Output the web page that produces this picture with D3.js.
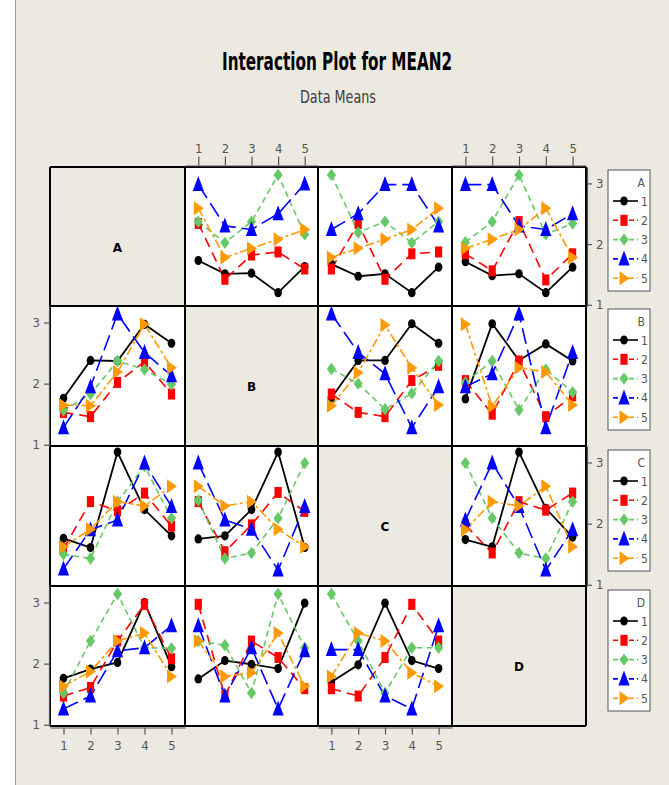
<!DOCTYPE html>
<html>
<head>
<meta charset="utf-8">
<script src="https://cdn.jsdelivr.net/npm/d3@7"></script>
<style>
  html, body { margin: 0; padding: 0; background: #ECE9E0; }
  svg { display: block; }
</style>
</head>
<body>
<svg id="chart" width="669" height="785"></svg>
<script>
// Factors and their levels
const factors = ["A", "B", "C", "D"];
const levels = [1, 2, 3, 4, 5];
const yTickValues = [1, 2, 3];

// Data means of MEAN2. Each array: one row per level of the row factor (the
// plotted series), one value per level of the column factor (the x axis).
const meansA_B = [
  [1.73, 1.51, 1.52, 1.20, 1.63],
  [2.34, 1.42, 1.82, 1.87, 1.59],
  [2.37, 2.02, 2.37, 3.14, 2.16],
  [2.98, 2.30, 2.24, 2.50, 2.99],
  [2.59, 1.78, 1.93, 2.08, 2.24]
];
const meansA_C = [
  [1.67, 1.47, 1.51, 1.20, 1.62],
  [1.59, 2.34, 1.42, 1.84, 1.87],
  [3.14, 2.19, 2.37, 2.02, 2.37],
  [2.24, 2.50, 2.98, 2.98, 2.30],
  [1.78, 1.93, 2.08, 2.24, 2.59]
];
const meansA_D = [
  [1.71, 1.48, 1.51, 1.20, 1.62],
  [1.84, 1.56, 2.37, 1.41, 1.84],
  [2.03, 2.37, 3.14, 2.16, 2.34],
  [2.98, 2.98, 2.30, 2.24, 2.50],
  [1.93, 2.08, 2.24, 2.59, 1.78]
];
const meansB_A = [
  [1.76, 2.38, 2.37, 2.97, 2.66],
  [1.53, 1.46, 2.02, 2.36, 1.83],
  [1.56, 1.83, 2.37, 2.23, 1.99],
  [1.28, 1.95, 3.14, 2.51, 2.13],
  [1.65, 1.64, 2.19, 2.97, 2.26]
];
const meansB_C = [
  [1.77, 2.38, 2.38, 2.98, 2.66],
  [1.83, 1.53, 1.46, 2.05, 2.30],
  [2.24, 2.00, 1.58, 1.84, 2.37],
  [3.14, 2.51, 2.16, 1.28, 1.95],
  [1.64, 2.18, 2.96, 2.26, 1.65]
];
const meansB_D = [
  [1.75, 2.98, 2.38, 2.65, 2.37],
  [2.05, 1.50, 2.37, 1.46, 1.80],
  [2.02, 2.37, 1.57, 2.23, 1.86],
  [1.95, 2.16, 3.14, 1.28, 2.51],
  [2.97, 1.63, 2.26, 2.19, 1.65]
];
const meansC_A = [
  [1.76, 1.61, 3.17, 2.23, 1.80],
  [1.59, 2.36, 2.21, 2.50, 1.96],
  [1.50, 1.43, 2.36, 2.94, 2.09],
  [1.26, 1.90, 2.06, 2.99, 2.28],
  [1.62, 1.91, 2.36, 2.29, 2.61]
];
const meansC_B = [
  [1.75, 1.80, 2.23, 3.17, 1.61],
  [2.36, 1.54, 1.98, 2.51, 2.20],
  [2.38, 1.43, 1.52, 2.09, 2.99],
  [2.99, 2.06, 1.91, 1.24, 2.28],
  [2.61, 2.29, 2.36, 1.91, 1.62]
];
const meansC_D = [
  [1.74, 1.62, 3.17, 2.25, 1.78],
  [1.98, 1.52, 2.36, 2.22, 2.50],
  [2.99, 2.09, 1.52, 1.43, 2.36],
  [2.06, 2.99, 2.28, 1.24, 1.90],
  [1.90, 2.36, 2.29, 2.61, 1.62]
];
const meansD_A = [
  [1.76, 1.91, 2.02, 3.00, 1.95],
  [1.47, 1.61, 2.37, 2.97, 2.08],
  [1.52, 2.37, 3.14, 2.26, 2.25],
  [1.26, 1.47, 2.21, 2.26, 2.62],
  [1.63, 1.87, 2.37, 2.50, 1.79]
];
const meansD_B = [
  [1.75, 2.05, 1.99, 1.92, 2.99],
  [2.97, 1.47, 2.37, 2.10, 1.59],
  [2.37, 2.30, 1.52, 3.14, 2.26],
  [2.62, 1.47, 2.26, 1.26, 2.21],
  [2.37, 1.79, 1.85, 2.50, 1.63]
];
const meansD_C = [
  [1.70, 1.98, 2.99, 2.05, 1.92],
  [1.59, 1.47, 2.10, 2.97, 2.37],
  [3.14, 2.37, 1.52, 2.26, 2.26],
  [2.23, 2.23, 1.47, 1.26, 2.62],
  [1.79, 2.50, 2.37, 1.85, 1.63]
];

const cellMeans = {
  "A|B": meansA_B, "A|C": meansA_C, "A|D": meansA_D,
  "B|A": meansB_A, "B|C": meansB_C, "B|D": meansB_D,
  "C|A": meansC_A, "C|B": meansC_B, "C|D": meansC_D,
  "D|A": meansD_A, "D|B": meansD_B, "D|C": meansD_C
};

// Series appearance, one entry per level
const seriesColors = ["#000000", "#FF0000", "#66C866", "#0000FF", "#FF9900"];
const seriesDash = [null, "10,6", "6,4", "16,6", "9,3,3,3"];
const seriesSymbol = ["circle", "square", "diamond", "triUp", "triRight"];

const BEIGE = "#ECE9E0";
const NARROW_FONT = "'Liberation Sans Narrow', 'DejaVu Sans Condensed', 'DejaVu Sans', sans-serif";

const svg = d3.select("#chart");

// Page background with the white margin strip on the left
svg.append("rect").attr("width", 669).attr("height", 785).attr("fill", BEIGE);
svg.append("rect").attr("width", 15).attr("height", 785).attr("fill", "#ffffff");
svg.append("line").attr("x1", 15.5).attr("x2", 15.5).attr("y1", 0).attr("y2", 785)
  .attr("stroke", "#9a9a9a").attr("stroke-width", 1);

// Titles
svg.append("text")
  .attr("x", 337).attr("y", 70)
  .attr("text-anchor", "middle")
  .attr("font-family", NARROW_FONT)
  .attr("font-stretch", "condensed")
  .attr("font-weight", "bold")
  .attr("font-size", 25)
  .attr("textLength", 230).attr("lengthAdjust", "spacingAndGlyphs")
  .attr("fill", "#000")
  .text("Interaction Plot for MEAN2");
svg.append("text")
  .attr("x", 338).attr("y", 103)
  .attr("text-anchor", "middle")
  .attr("font-family", NARROW_FONT)
  .attr("font-stretch", "condensed")
  .attr("font-size", 18)
  .attr("textLength", 76).attr("lengthAdjust", "spacingAndGlyphs")
  .attr("fill", "#404040")
  .text("Data Means");

// Panel grid geometry
const colEdges = [50, 185, 318, 452, 586];
const rowEdges = [167, 306, 446, 586, 726];

function xScaleFor(c) {
  return d3.scaleLinear().domain([0.5, 5.5]).range([colEdges[c], colEdges[c + 1]]);
}
function yScaleFor(r) {
  return d3.scaleLinear().domain([0.98, 3.27]).range([rowEdges[r + 1], rowEdges[r]]);
}

// Marker shape paths centred on (0,0)
function symbolPath(kind) {
  switch (kind) {
    case "circle":
      return "M-3.8,0 A3.8,4.6 0 1,0 3.8,0 A3.8,4.6 0 1,0 -3.8,0 Z";
    case "square":
      return "M-3.6,-5.5 L3.6,-5.5 L3.6,5.5 L-3.6,5.5 Z";
    case "diamond":
      return "M0,-6.2 L4.6,0 L0,6.2 L-4.6,0 Z";
    case "triUp":
      return "M0,-8.5 L5.6,6.5 L-5.6,6.5 Z";
    case "triRight":
      return "M5.5,0 L-4.5,-7 L-4.5,7 Z";
  }
}

const panels = svg.append("g");

factors.forEach((rowF, r) => {
  factors.forEach((colF, c) => {
    const x0 = colEdges[c], x1 = colEdges[c + 1];
    const y0 = rowEdges[r], y1 = rowEdges[r + 1];
    const g = panels.append("g");
    g.append("rect")
      .attr("x", x0).attr("y", y0)
      .attr("width", x1 - x0).attr("height", y1 - y0)
      .attr("fill", r === c ? BEIGE : "#ffffff");
    if (r === c) {
      g.append("text")
        .attr("x", (x0 + x1) / 2).attr("y", (y0 + y1) / 2 + 15)
        .attr("text-anchor", "middle")
        .attr("font-family", "'DejaVu Sans', sans-serif")
        .attr("font-weight", "bold")
        .attr("font-size", 12)
        .attr("fill", "#000")
        .text(rowF);
    }
  });
});

// Interaction lines and markers
factors.forEach((rowF, r) => {
  factors.forEach((colF, c) => {
    if (r === c) return;
    const data = cellMeans[rowF + "|" + colF];
    const xs = xScaleFor(c), ys = yScaleFor(r);
    const line = d3.line().x((d, i) => xs(levels[i])).y(d => ys(d));
    const g = svg.append("g");
    data.forEach((vals, s) => {
      g.append("path")
        .attr("d", line(vals))
        .attr("fill", "none")
        .attr("stroke", seriesColors[s])
        .attr("stroke-width", s === 0 ? 1.8 : 1.6)
        .attr("stroke-dasharray", seriesDash[s]);
    });
    data.forEach((vals, s) => {
      g.selectAll(null).data(vals).enter().append("path")
        .attr("d", symbolPath(seriesSymbol[s]))
        .attr("transform", (d, i) => `translate(${xs(levels[i])},${ys(d)})`)
        .attr("fill", seriesColors[s]);
    });
  });
});

// Panel borders
const borders = svg.append("g").attr("stroke", "#000").attr("stroke-width", 2).attr("fill", "none");
colEdges.forEach(x => borders.append("line").attr("x1", x).attr("x2", x).attr("y1", rowEdges[0]).attr("y2", rowEdges[4]));
rowEdges.forEach(y => borders.append("line").attr("x1", colEdges[0]).attr("x2", colEdges[4]).attr("y1", y).attr("y2", y));

// Axes: alternate sides like a scatterplot matrix
const intFormat = d3.format("d");
function styleAxis(sel) {
  sel.selectAll("path.domain").attr("stroke", "#555").attr("stroke-width", 1.2);
  sel.selectAll(".tick line").attr("stroke", "#555").attr("stroke-width", 1.2);
  sel.selectAll(".tick text")
    .attr("fill", "#555")
    .attr("font-family", NARROW_FONT)
    .attr("font-stretch", "condensed")
    .attr("font-size", 13);
}

// Top axes over columns B and D
[1, 3].forEach(c => {
  const ax = svg.append("g")
    .attr("transform", `translate(0,${rowEdges[0] - 1.5})`)
    .call(d3.axisTop(xScaleFor(c)).tickValues(levels).tickFormat(intFormat)
      .tickSize(9).tickSizeOuter(0).tickPadding(4));
  styleAxis(ax);
});
// Bottom axes under columns A and C
[0, 2].forEach(c => {
  const ax = svg.append("g")
    .attr("transform", `translate(0,${rowEdges[4] + 1.5})`)
    .call(d3.axisBottom(xScaleFor(c)).tickValues(levels).tickFormat(intFormat)
      .tickSize(7).tickSizeOuter(0).tickPadding(6));
  styleAxis(ax);
});
// Left axes beside rows B and D
[1, 3].forEach(r => {
  const ax = svg.append("g")
    .attr("transform", `translate(${colEdges[0] - 1},0)`)
    .call(d3.axisLeft(yScaleFor(r)).tickValues(yTickValues).tickFormat(intFormat)
      .tickSize(5).tickSizeOuter(0).tickPadding(4));
  styleAxis(ax);
});
// Right axes beside rows A and C
[0, 2].forEach(r => {
  const ax = svg.append("g")
    .attr("transform", `translate(${colEdges[4] + 1},0)`)
    .call(d3.axisRight(yScaleFor(r)).tickValues(yTickValues).tickFormat(intFormat)
      .tickSize(5).tickSizeOuter(0).tickPadding(4));
  styleAxis(ax);
});

// Legends, one per row factor
const legendTops = [170, 309, 450, 590];
factors.forEach((f, r) => {
  const top = legendTops[r];
  const g = svg.append("g").attr("transform", `translate(608,${top})`);
  g.append("rect").attr("width", 42).attr("height", 121)
    .attr("fill", "#ffffff").attr("stroke", "#555").attr("stroke-width", 1);
  g.append("text").attr("x", 37).attr("y", 17)
    .attr("text-anchor", "end")
    .attr("font-family", NARROW_FONT).attr("font-stretch", "condensed")
    .attr("font-size", 12).attr("fill", "#555")
    .text(f);
  levels.forEach((lv, s) => {
    const y = 31 + s * 19.3;
    g.append("line")
      .attr("x1", 5).attr("x2", 30).attr("y1", y).attr("y2", y)
      .attr("stroke", seriesColors[s]).attr("stroke-width", 1.6)
      .attr("stroke-dasharray", seriesDash[s] ? "5,3" : null);
    g.append("path").attr("d", symbolPath(seriesSymbol[s]))
      .attr("transform", `translate(16,${y})`)
      .attr("fill", seriesColors[s]);
    g.append("text").attr("x", 33).attr("y", y + 4.5)
      .attr("font-family", NARROW_FONT).attr("font-stretch", "condensed")
      .attr("font-size", 12).attr("fill", "#555")
      .text(lv);
  });
});
</script>
</body>
</html>
